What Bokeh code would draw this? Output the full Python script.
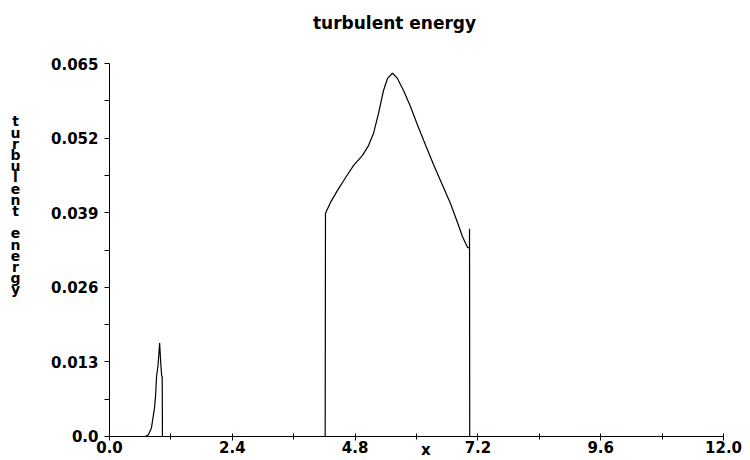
from bokeh.plotting import figure
from bokeh.models import Range1d, FixedTicker, NumeralTickFormatter, Label, LinearAxis
from bokeh.embed import file_html
from bokeh.resources import INLINE

# ---- data ----
x_vals = [0.0, 0.60, 0.70, 0.76, 0.82, 0.88, 0.90, 0.92, 0.95, 0.98, 1.00, 1.02, 1.03, 1.035,
          4.215, 4.221, 4.319, 4.456, 4.612, 4.768, 4.944, 5.062, 5.159, 5.257, 5.355, 5.433,
          5.531, 5.628, 5.746, 5.882, 6.019, 6.176, 6.332, 6.508, 6.664, 6.801, 6.899, 6.996,
          7.035, 7.036, 7.040, 12.0]
y_vals = [0.0, 0.0, 0.0, 0.0003, 0.0015, 0.0050, 0.0070, 0.0105, 0.0125, 0.0163, 0.0130, 0.0105, 0.0105, 0.0,
          0.0, 0.0389, 0.0408, 0.0429, 0.0451, 0.0472, 0.0490, 0.0507, 0.0528, 0.0563, 0.0603, 0.0624,
          0.0633, 0.0624, 0.0603, 0.0575, 0.0543, 0.0508, 0.0474, 0.0438, 0.0406, 0.0373, 0.0348, 0.0330,
          0.0328, 0.0362, 0.0, 0.0]

x_ticks = [0.0, 2.4, 4.8, 7.2, 9.6, 12.0]
x_minor = [1.2, 3.6, 6.0, 8.4, 10.8]
y_ticks = [0.0, 0.013, 0.026, 0.039, 0.052, 0.065]
y_minor = [0.0065, 0.0195, 0.0325, 0.0455, 0.0585]

title_text = "turbulent energy"
x_label = "x"
y_label = "turbulent energy"

FONT = "DejaVu Sans"

# plot area covers the whole canvas; axes are pinned at x=0 / y=0
p = figure(width=750, height=460, output_backend="svg", toolbar_location=None,
           title=None, x_axis_location=None, y_axis_location=None,
           x_range=Range1d(-2.130, 12.527), y_range=Range1d(-0.004183, 0.075985),
           min_border=0, min_border_left=0, min_border_right=0,
           min_border_top=0, min_border_bottom=0)
p.outline_line_color = None
p.xgrid.visible = False
p.ygrid.visible = False
p.background_fill_color = "white"
p.border_fill_color = "white"

p.line(x_vals, y_vals, line_color="black", line_width=1.2)

# x axis
xa = LinearAxis(fixed_location=0, bounds=(0, 12))
xa.ticker = FixedTicker(ticks=x_ticks, minor_ticks=x_minor)
xa.formatter = NumeralTickFormatter(format="0.0")
xa.major_tick_in = 3
xa.major_tick_out = 4
xa.minor_tick_in = 3
xa.minor_tick_out = 3
xa.major_label_standoff = 1
xa.major_label_text_font = FONT
xa.major_label_text_font_style = "bold"
xa.major_label_text_font_size = "15px"
xa.major_label_text_color = "black"
xa.axis_line_color = "black"
xa.major_tick_line_color = "black"
xa.minor_tick_line_color = "black"
p.add_layout(xa, "below")

# y axis
ya = LinearAxis(fixed_location=0, bounds=(0, 0.065))
ya.ticker = FixedTicker(ticks=y_ticks, minor_ticks=y_minor)
ya.formatter = NumeralTickFormatter(format="0.000")
ya.major_label_overrides = {0: "0.0"}
ya.major_tick_in = 0
ya.major_tick_out = 5
ya.minor_tick_in = 0
ya.minor_tick_out = 5
ya.major_label_standoff = 6
ya.major_label_text_font = FONT
ya.major_label_text_font_style = "bold"
ya.major_label_text_font_size = "15px"
ya.major_label_text_color = "black"
ya.axis_line_color = "black"
ya.major_tick_line_color = "black"
ya.minor_tick_line_color = "black"
p.add_layout(ya, "left")

# title
p.add_layout(Label(x=5.57, y=0.07215, text=title_text, text_align="center", text_baseline="middle",
                   text_font=FONT, text_font_style="bold", text_font_size="17px", text_color="black"))
# x axis label
p.add_layout(Label(x=6.18, y=-0.00395, text=x_label, text_align="center", text_baseline="bottom",
                   text_font=FONT, text_font_style="bold", text_font_size="15px", text_color="black"))
# stacked y axis label
stacked = "\n".join(ch if ch != " " else " " for ch in y_label)
p.add_layout(Label(x=-1.837, y=0.04026, text=stacked, text_align="center", text_baseline="middle",
                   text_font=FONT, text_font_style="bold", text_font_size="14px", text_color="black",
                   text_line_height=0.70))

open("out.html", "w").write(file_html(p, INLINE))
